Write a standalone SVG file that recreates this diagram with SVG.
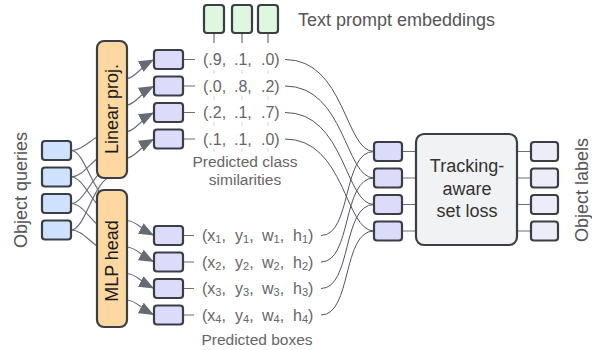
<svg xmlns="http://www.w3.org/2000/svg" width="592" height="350" viewBox="0 0 592 350">
<defs>
<marker id="ah" markerUnits="userSpaceOnUse" markerWidth="16" markerHeight="12" refX="15" refY="6" orient="auto">
<path d="M0,0 L15,6 L0,12 z" fill="#666a72"/>
</marker>
<style>
.bx{stroke:#3a3e45;stroke-width:2.2}
.q{fill:#cfe2fd}
.hd{fill:#fdd9a1}
.p{fill:#dcdcfa}
.lb{fill:#ededfa}
.g{fill:#def7de}
.tr{fill:#f1f2f4}
.c{fill:none;stroke:#6b6f77;stroke-width:1.2}
.lc{fill:none;stroke:#50555d;stroke-width:1}
.ar{fill:none;stroke:#6b6f77;stroke-width:1.2;marker-end:url(#ah)}
.fd{stroke:#d6d6d6;stroke-width:1}
text{font-family:"Liberation Sans",Arial,sans-serif}
.t16{font-size:16px;fill:#666}
.t15{font-size:15.5px;fill:#666}
.t18{font-size:18px;fill:#555}
.hl{font-size:18px;fill:#1a1a1a}
.sub{font-size:11px}
</style>
</defs>
<rect width="592" height="350" fill="#fff"/>

<g id="connectors">
<path class="c" d="M71,150.5 C86,150.5 94,132 114,132"/>
<path class="c" d="M71,150.5 C86,150.5 94,202 114,202"/>
<path class="c" d="M71,177 C86,177 94,152 114,152"/>
<path class="c" d="M71,177 C86,177 94,214 114,214"/>
<path class="c" d="M71,203.5 C86,203.5 94,166 114,166"/>
<path class="c" d="M71,203.5 C86,203.5 94,232 114,232"/>
<path class="c" d="M71,230 C86,230 94,176 114,176"/>
<path class="c" d="M71,230 C86,230 94,252 114,252"/>
<path class="ar" d="M127,78.5 C135,78.5 140,67 154,59.5"/>
<path class="ar" d="M127,105 C135,105 140,93.5 154,86"/>
<path class="ar" d="M127,131.5 C135,131.5 140,120 154,112.5"/>
<path class="ar" d="M127,158 C135,158 140,146.5 154,139"/>
<path class="ar" d="M127,220.5 C135,220.5 140,228 154,235.5"/>
<path class="ar" d="M127,247 C135,247 140,254.5 154,262"/>
<path class="ar" d="M127,273.5 C135,273.5 140,281 154,288.5"/>
<path class="ar" d="M127,300 C135,300 140,307.5 154,315"/>
<path class="c" d="M183,59.5 H195 M183,86 H195 M183,112.5 H195 M183,139 H195"/>
<path class="c" d="M183,235.5 H194 M183,262 H194 M183,288.5 H194 M183,315 H194"/>
<path class="c" d="M214,33 V43 M242,33 V43 M268,33 V43"/>
<path class="fd" d="M214,70 V74 M242,70 V74 M268,70 V74 M214,96 V100 M242,96 V100 M268,96 V100 M214,122 V126 M242,122 V126 M268,122 V126 M214,148 V152 M242,148 V152 M268,148 V152"/>
<path class="lc" d="M285,59.5 C345,59.5 345,151.5 374,151.5"/>
<path class="lc" d="M285,86 C345,86 345,178 374,178"/>
<path class="lc" d="M285,112.5 C345,112.5 345,204.5 374,204.5"/>
<path class="lc" d="M285,139 C345,139 345,231 374,231"/>
<path class="lc" d="M321,235.5 C352,235.5 342,151.5 374,151.5"/>
<path class="lc" d="M321,262 C352,262 342,178 374,178"/>
<path class="lc" d="M321,288.5 C352,288.5 342,204.5 374,204.5"/>
<path class="lc" d="M321,315 C352,315 342,231 374,231"/>
<path class="c" d="M402,151.5 H416 M402,178 H416 M402,204.5 H416 M402,231 H416"/>
<path class="c" d="M517,151.5 H531 M517,178 H531 M517,204.5 H531 M517,231 H531"/>
</g>

<g id="queries">
<rect class="bx q" x="42" y="141" width="29" height="19" rx="3"/>
<rect class="bx q" x="42" y="167.5" width="29" height="19" rx="3"/>
<rect class="bx q" x="42" y="194" width="29" height="19" rx="3"/>
<rect class="bx q" x="42" y="220.5" width="29" height="19" rx="3"/>
<text class="t18" transform="translate(27,190) rotate(-90)" text-anchor="middle">Object queries</text>
</g>

<g id="linear-proj">
<rect class="bx hd" x="97" y="41" width="30" height="137" rx="7"/>
<text class="hl" transform="translate(118,109) rotate(-90)" text-anchor="middle">Linear proj.</text>
</g>

<g id="mlp-head">
<rect class="bx hd" x="97" y="190" width="30" height="137" rx="7"/>
<text class="hl" transform="translate(118,261) rotate(-90)" text-anchor="middle">MLP head</text>
</g>

<g id="text-embeddings">
<rect class="bx g" x="204" y="5" width="20" height="28" rx="3"/>
<rect class="bx g" x="232" y="5" width="20" height="28" rx="3"/>
<rect class="bx g" x="258" y="5" width="20" height="28" rx="3"/>
<text class="t18" x="298" y="26">Text prompt embeddings</text>
</g>

<g id="class-sims">
<rect class="bx p" x="154" y="50" width="29" height="19" rx="3"/>
<rect class="bx p" x="154" y="76.5" width="29" height="19" rx="3"/>
<rect class="bx p" x="154" y="103" width="29" height="19" rx="3"/>
<rect class="bx p" x="154" y="129.5" width="29" height="19" rx="3"/>
<g class="t16">
<text x="203" y="65">(.9,</text><text x="234" y="65">.1,</text><text x="261" y="65">.0)</text>
<text x="203" y="91.5">(.0,</text><text x="234" y="91.5">.8,</text><text x="261" y="91.5">.2)</text>
<text x="203" y="118">(.2,</text><text x="234" y="118">.1,</text><text x="261" y="118">.7)</text>
<text x="203" y="144.5">(.1,</text><text x="234" y="144.5">.1,</text><text x="261" y="144.5">.0)</text>
</g>
<g class="t15">
<text x="245" y="167" text-anchor="middle">Predicted class</text>
<text x="245" y="185" text-anchor="middle">similarities</text>
</g>
</g>

<g id="pred-boxes">
<rect class="bx p" x="154" y="226" width="29" height="19" rx="3"/>
<rect class="bx p" x="154" y="252.5" width="29" height="19" rx="3"/>
<rect class="bx p" x="154" y="279" width="29" height="19" rx="3"/>
<rect class="bx p" x="154" y="305.5" width="29" height="19" rx="3"/>
<g class="t16">
<text x="202" y="241">(x<tspan class="sub" dy="2">1</tspan><tspan dy="-2">,</tspan></text>
<text x="235" y="241">y<tspan class="sub" dy="2">1</tspan><tspan dy="-2">,</tspan></text>
<text x="262" y="241">w<tspan class="sub" dy="2">1</tspan><tspan dy="-2">,</tspan></text>
<text x="293" y="241">h<tspan class="sub" dy="2">1</tspan><tspan dy="-2">)</tspan></text>
<text x="202" y="267.5">(x<tspan class="sub" dy="2">2</tspan><tspan dy="-2">,</tspan></text>
<text x="235" y="267.5">y<tspan class="sub" dy="2">2</tspan><tspan dy="-2">,</tspan></text>
<text x="262" y="267.5">w<tspan class="sub" dy="2">2</tspan><tspan dy="-2">,</tspan></text>
<text x="293" y="267.5">h<tspan class="sub" dy="2">2</tspan><tspan dy="-2">)</tspan></text>
<text x="202" y="294">(x<tspan class="sub" dy="2">3</tspan><tspan dy="-2">,</tspan></text>
<text x="235" y="294">y<tspan class="sub" dy="2">3</tspan><tspan dy="-2">,</tspan></text>
<text x="262" y="294">w<tspan class="sub" dy="2">3</tspan><tspan dy="-2">,</tspan></text>
<text x="293" y="294">h<tspan class="sub" dy="2">3</tspan><tspan dy="-2">)</tspan></text>
<text x="202" y="320.5">(x<tspan class="sub" dy="2">4</tspan><tspan dy="-2">,</tspan></text>
<text x="235" y="320.5">y<tspan class="sub" dy="2">4</tspan><tspan dy="-2">,</tspan></text>
<text x="262" y="320.5">w<tspan class="sub" dy="2">4</tspan><tspan dy="-2">,</tspan></text>
<text x="293" y="320.5">h<tspan class="sub" dy="2">4</tspan><tspan dy="-2">)</tspan></text>
</g>
<text class="t15" x="257" y="345" text-anchor="middle">Predicted boxes</text>
</g>

<g id="collector">
<rect class="bx p" x="374" y="142" width="28" height="19" rx="3"/>
<rect class="bx p" x="374" y="168.5" width="28" height="19" rx="3"/>
<rect class="bx p" x="374" y="195" width="28" height="19" rx="3"/>
<rect class="bx p" x="374" y="221.5" width="28" height="19" rx="3"/>
</g>

<g id="set-loss">
<rect class="bx tr" x="416" y="134" width="101" height="111" rx="8"/>
<g class="hl" text-anchor="middle" style="fill:#333">
<text x="467" y="172">Tracking-</text>
<text x="467" y="194.5">aware</text>
<text x="467" y="217">set loss</text>
</g>
</g>

<g id="object-labels">
<rect class="bx lb" x="531" y="142" width="27" height="19" rx="3"/>
<rect class="bx lb" x="531" y="168.5" width="27" height="19" rx="3"/>
<rect class="bx lb" x="531" y="195" width="27" height="19" rx="3"/>
<rect class="bx lb" x="531" y="221.5" width="27" height="19" rx="3"/>
<text class="t18" transform="translate(588,190) rotate(-90)" text-anchor="middle">Object labels</text>
</g>
</svg>
